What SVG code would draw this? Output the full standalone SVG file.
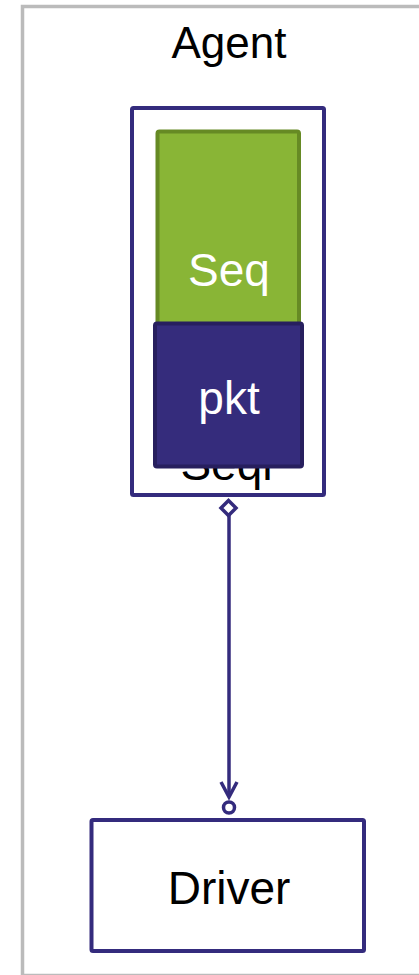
<svg xmlns="http://www.w3.org/2000/svg" width="419" height="975" viewBox="0 0 419 975">
  <style>
    .lbl { font-family: "Liberation Sans", Arial, sans-serif; font-size: 46px; text-anchor: middle; }
    .dark { fill: #000000; }
    .light { fill: #ffffff; }
    .frame { fill: #ffffff; stroke: #bbbbbb; stroke-width: 3.5; }
    .box { fill: #ffffff; stroke: #342b7d; stroke-width: 4; }
    .link { fill: none; stroke: #342b7d; stroke-width: 3.5; }
  </style>

  <!-- Agent container -->
  <g id="agent">
    <rect class="frame" x="22.5" y="6.5" width="420" height="969"/>
    <text class="lbl dark" x="229" y="58" style="font-size:44px">Agent</text>
  </g>

  <!-- Sequencer with its sequence and packet -->
  <g id="seqr">
    <rect class="box" x="132" y="108" width="192" height="387" rx="1.5"/>
    <text class="lbl dark" x="229" y="480">Seqr</text>
  </g>
  <g id="seq">
    <rect x="157.5" y="131.5" width="141.5" height="260" rx="2" fill="#89b536" stroke="#668a24" stroke-width="4"/>
    <text class="lbl light" x="229" y="286">Seq</text>
  </g>
  <g id="pkt">
    <rect x="155" y="323.5" width="147" height="143" rx="2" fill="#352c7c" stroke="#271f5e" stroke-width="4"/>
    <text class="lbl light" x="229" y="414">pkt</text>
  </g>

  <!-- Driver -->
  <g id="driver">
    <rect class="box" x="91.5" y="820" width="272.5" height="131" rx="1.5"/>
    <text class="lbl dark" x="229" y="904">Driver</text>
  </g>

  <!-- Port connection: sequencer to driver -->
  <g id="connectors">
    <path d="M228.5 500.5 L236 508 L228.5 515.5 L221 508 Z" fill="#ffffff" stroke="#342b7d" stroke-width="3.5"/>
    <line class="link" x1="229" y1="515" x2="229" y2="797"/>
    <polyline class="link" points="221,782 229,797 237,782"/>
    <circle cx="229" cy="807.5" r="5.5" fill="#ffffff" stroke="#342b7d" stroke-width="3.5"/>
  </g>
</svg>
